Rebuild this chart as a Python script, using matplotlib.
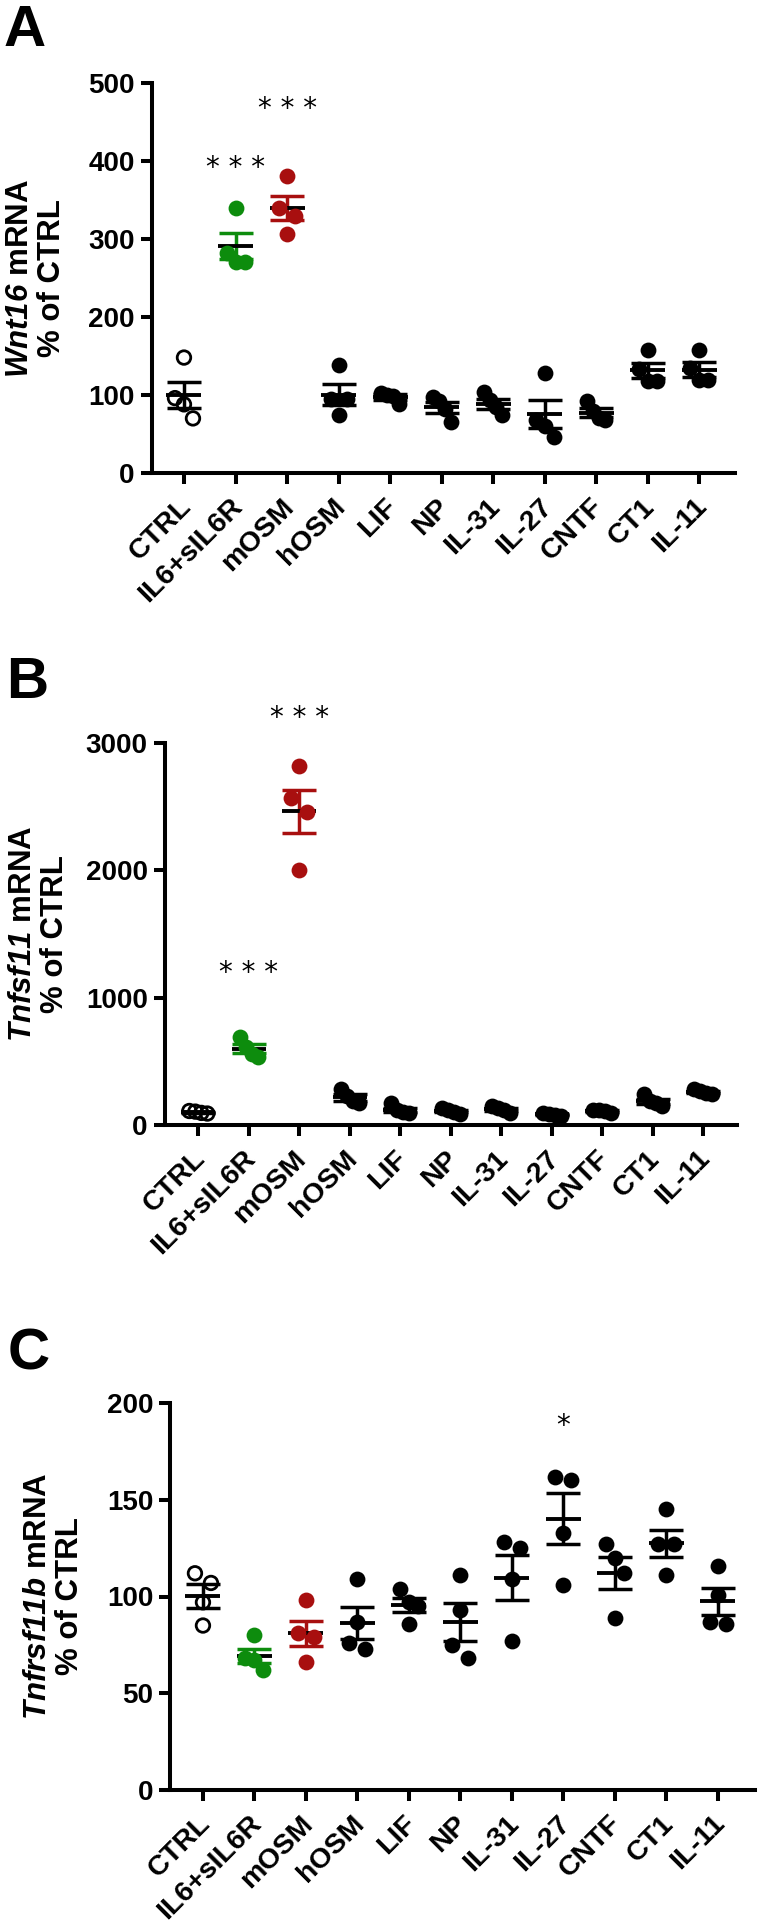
import numpy as np
import matplotlib
matplotlib.use("Agg")
import matplotlib.pyplot as plt
from matplotlib.transforms import ScaledTranslation

plt.rcParams['font.family'] = ['Liberation Sans', 'DejaVu Sans']
plt.rcParams['mathtext.fontset'] = 'custom'
# gene names: bold italic, digits included
plt.rcParams['mathtext.rm'] = 'Liberation Sans:italic:bold'
plt.rcParams['mathtext.it'] = 'Liberation Sans:italic:bold'

groups = ["CTRL", "IL6+sIL6R", "mOSM", "hOSM", "LIF", "NP",
          "IL-31", "IL-27", "CNTF", "CT1", "IL-11"]

# % of CTRL, 4 replicates per group
wnt16 = [
    [148, 96, 88, 70],
    [340, 282, 271, 271],
    [381, 340, 329, 307],
    [138, 95, 95, 74],
    [103, 100, 99, 88],
    [98, 92, 82, 65],
    [104, 93, 85, 74],
    [128, 68, 60, 46],
    [92, 80, 70, 68],
    [158, 133, 118, 118],
    [158, 134, 119, 119],
]
tnfsf11 = [
    [110, 105, 95, 90],
    [695, 610, 560, 535],
    [2820, 2570, 2460, 2000],
    [285, 230, 185, 170],
    [170, 115, 100, 95],
    [135, 120, 100, 90],
    [150, 135, 115, 95],
    [95, 90, 80, 70],
    [120, 115, 110, 95],
    [240, 190, 170, 150],
    [280, 270, 255, 240],
]
tnfrsf11b = [
    [112, 107, 97, 85],
    [80, 68, 67, 62],
    [98, 81, 79, 66],
    [109, 87, 76, 73],
    [104, 97, 95, 86],
    [111, 93, 75, 68],
    [128, 125, 109, 77],
    [162, 160, 133, 106],
    [127, 120, 112, 89],
    [145, 127, 127, 111],
    [116, 101, 87, 86],
]

# significance marks: group index, text, height
stars_a = [(1, "* * *", 391), (2, "* * *", 467)]
stars_b = [(1, "* * *", 1194), (2, "* * *", 3196)]
stars_c = [(7, "*", 188)]

GREEN = "#0d8c0d"
RED = "#a80f0f"
colors = ["k", GREEN, RED] + ["k"] * 8

W, H = 759, 1932
fig = plt.figure(figsize=(W / 100, H / 100), dpi=100)


def make_axes(left, right, top, bottom):
    return fig.add_axes([left / W, 1 - bottom / H, (right - left) / W, (bottom - top) / H])


def spread(ax, x0, vals, diam, maxw=18):
    # group points that overlap vertically and spread them side by side
    p0 = ax.transData.transform((0, 0))
    p1 = ax.transData.transform((1, 1))
    sx, sy = p1[0] - p0[0], p1[1] - p0[1]
    order = sorted(range(len(vals)), key=lambda k: -vals[k])
    clusters = [[order[0]]]
    for k in order[1:]:
        if (vals[clusters[-1][-1]] - vals[k]) * sy < diam:
            clusters[-1].append(k)
        else:
            clusters.append([k])
    xs = [x0] * len(vals)
    for cl in clusters:
        n = len(cl)
        if n == 1:
            continue
        pitch = min(diam, maxw / (n - 1))
        for j, k in enumerate(cl):
            xs[k] = x0 + (j - (n - 1) / 2) * pitch / sx
    return xs


def panel(ax, data, ylim, yticks, gene, stars, xpad, letter, letter_xy, ylab_x):
    ax.set_xlim(*xpad)
    ax.set_ylim(*ylim)
    for s in ['top', 'right']:
        ax.spines[s].set_visible(False)
    for s in ['left', 'bottom']:
        ax.spines[s].set_linewidth(2.9)
    ax.set_yticks(yticks)
    ax.set_xticks(range(len(groups)))
    ax.tick_params(width=2.9, length=8, labelsize=20, pad=4)
    ax.tick_params(axis='x', pad=17)
    for lab in ax.get_yticklabels():
        lab.set_fontweight('bold')
    ax.set_xticklabels(groups, rotation=45, ha='right', va='baseline',
                       rotation_mode='anchor', fontweight='bold', fontsize=20.5)
    for lab in ax.get_xticklabels():
        lab.set_transform(lab.get_transform() + ScaledTranslation(0.08, 0, fig.dpi_scale_trans))

    for i, vals in enumerate(data):
        vals = np.array(vals, dtype=float)
        m = vals.mean()
        sem = vals.std(ddof=1) / np.sqrt(len(vals))
        c = colors[i]
        ax.errorbar(i, m, yerr=sem, fmt='none', ecolor=c, elinewidth=2.5,
                    capsize=12, capthick=2.5, zorder=2, clip_on=False)
        ax.hlines(m, i - 0.34, i + 0.34, color='k', lw=2.8, zorder=2)
        xs = spread(ax, i, list(vals), 16)
        if i == 0:
            ax.scatter(xs, vals, s=95, facecolors='none', edgecolors='k',
                       linewidths=2.0, zorder=3, clip_on=False)
        else:
            ax.scatter(xs, vals, s=130, color=c, linewidths=0, zorder=3, clip_on=False)

    for i, txt, y in stars:
        ax.text(i, y, txt, ha='center', va='center', fontsize=20,
                family='DejaVu Sans', clip_on=False)

    fig.text(ylab_x / W, ax.get_position().y0 + ax.get_position().height / 2,
             r"$\mathrm{%s}$ mRNA" % gene + "\n% of CTRL",
             rotation=90, ha='center', va='center', fontsize=22.5, fontweight='bold',
             multialignment='center', linespacing=1.1)
    fig.text(letter_xy[0] / W, 1 - letter_xy[1] / H, letter, fontsize=42,
             fontweight='bold', ha='left', va='top')


axA = make_axes(151.5, 735, 83, 473)
panel(axA, wnt16, (0, 500), range(0, 501, 100), "Wnt16", stars_a,
      (-0.63, 10.69), "A", (4, 4), 36)

axB = make_axes(164.5, 737, 743, 1125)
panel(axB, tnfsf11, (0, 3000), range(0, 3001, 1000), "Tnfsf11", stars_b,
      (-0.67, 10.67), "B", (6, 656), 39)

axC = make_axes(170, 755, 1403, 1790)
panel(axC, tnfrsf11b, (0, 200), range(0, 201, 50), "Tnfrsf11b", stars_c,
      (-0.64, 10.72), "C", (8, 1328), 54)

fig.savefig("out.png", dpi=100)
